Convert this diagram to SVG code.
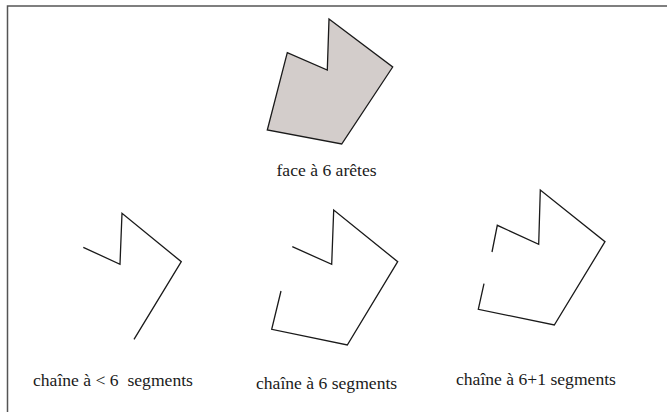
<svg xmlns="http://www.w3.org/2000/svg" width="667" height="412" viewBox="0 0 667 412">
<style>
.ln{fill:none;stroke:#1a1a1a;stroke-width:1.3;stroke-linejoin:miter}
.face{fill:#d3cdcb;stroke:#1a1a1a;stroke-width:1.3}
.lbl{font-family:"Liberation Serif","Times New Roman",serif;font-size:17.6px;fill:#1a1a1a}
</style>
<rect x="0" y="0" width="667" height="412" fill="#ffffff"/>
<rect x="7.5" y="6" width="700" height="450" fill="none" stroke="#555555" stroke-width="1.5"/>
<g id="face">
<polygon class="face" points="329,19 392.7,67 341.7,144 267.3,130 287.3,52.7 327.3,70"/>
<text class="lbl" x="276.5" y="176">face à 6 arêtes</text>
</g>
<g id="connectors">
<polyline id="chain1" class="ln" points="83.3,247.3 120,264.3 122,213.3 181.3,261.7 134,339.3"/>
<polyline id="chain2" class="ln" points="292.3,246.7 331.7,264.3 333.7,210 397.7,261.7 347.3,345 271.7,329.3 281,291"/>
<polyline id="chain3a" class="ln" points="492,252 497.3,225.3 538.7,244.3 540.3,190 605,241.7 554.3,325 478.3,309.3 484,283.7"/>
</g>
<g id="label1"><text class="lbl" x="33" y="386" xml:space="preserve">chaîne à &lt; 6  segments</text></g>
<g id="label2"><text class="lbl" x="256" y="389">chaîne à 6 segments</text></g>
<g id="label3"><text class="lbl" x="456" y="385">chaîne à 6+1 segments</text></g>
</svg>
